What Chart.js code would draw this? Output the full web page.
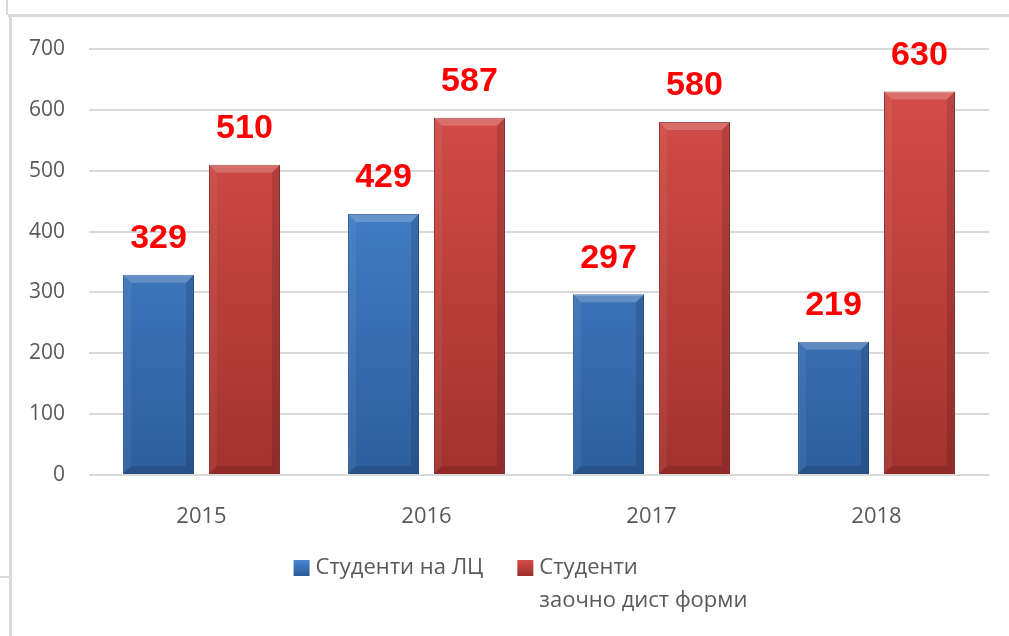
<!DOCTYPE html>
<html><head><meta charset="utf-8">
<script src="https://cdn.jsdelivr.net/npm/chart.js@4/dist/chart.umd.min.js"></script>
<style>
html,body{margin:0;padding:0;background:#fff;width:1009px;height:636px;overflow:hidden;position:relative}
canvas{position:absolute;left:0;top:0}
.l{position:absolute;background:#dadada}
</style></head><body>
<div class="l" style="left:6px;top:0;width:2px;height:15px"></div>
<div class="l" style="left:8px;top:14px;width:1001px;height:3px"></div>
<div class="l" style="left:9px;top:14px;width:3px;height:622px"></div>
<div class="l" style="left:0;top:576px;width:9px;height:2px"></div>
<canvas id="c" width="1009" height="636"></canvas>
<script>
const categories = ['2015', '2016', '2017', '2018'];
const legendNames = [['Студенти на ЛЦ'], ['Студенти', 'заочно дист форми']];
const lcValues = [329, 429, 297, 219];
const distValues = [510, 587, 580, 630];
const yMin = 0, yMax = 700, yStep = 100;

const seriesColors = [
  {top: '#4e8ed9', bottom: '#2d5e9d', legendTop: '#4a86d0', legendBottom: '#2b5a96'},
  {top: '#d9504b', bottom: '#a2322f', legendTop: '#d44a45', legendBottom: '#9c302d'}
];

function grad(ctx, i) {
  const ch = ctx.chart; const a = ch.chartArea;
  if (!a) return seriesColors[i].top;
  const g = ch.ctx.createLinearGradient(0, a.top, 0, a.bottom);
  g.addColorStop(0, seriesColors[i].top);
  g.addColorStop(1, seriesColors[i].bottom);
  return g;
}

const bevelPlugin = {
  id: 'bevel',
  afterDatasetsDraw(chart) {
    const c = chart.ctx;
    chart.data.datasets.forEach((ds, di) => {
      chart.getDatasetMeta(di).data.forEach(bar => {
        const w = bar.width, l = bar.x - w / 2, r = bar.x + w / 2, t = bar.y, b = bar.base;
        const s = Math.min(8, (b - t) / 2);
        c.save();
        c.fillStyle = 'rgba(255,255,255,0.2)';
        c.beginPath(); c.moveTo(l, t); c.lineTo(r, t); c.lineTo(r - s, t + s); c.lineTo(l + s, t + s); c.closePath(); c.fill();
        c.fillStyle = 'rgba(255,255,255,0.05)';
        c.beginPath(); c.moveTo(l, t); c.lineTo(l + s, t + s); c.lineTo(l + s, b - s); c.lineTo(l, b); c.closePath(); c.fill();
        c.fillStyle = 'rgba(0,0,0,0.12)';
        c.beginPath(); c.moveTo(r, t); c.lineTo(r, b); c.lineTo(r - s, b - s); c.lineTo(r - s, t + s); c.closePath(); c.fill();
        c.fillStyle = 'rgba(0,0,0,0.12)';
        c.beginPath(); c.moveTo(l, b); c.lineTo(r, b); c.lineTo(r - s, b - s); c.lineTo(l + s, b - s); c.closePath(); c.fill();
        c.restore();
      });
    });
  }
};

const labelPlugin = {
  id: 'valueLabels',
  afterDatasetsDraw(chart) {
    const c = chart.ctx;
    c.save();
    c.fillStyle = '#ff0000';
    c.font = 'bold 34px "Liberation Sans", Arial, sans-serif';
    c.textAlign = 'center';
    c.textBaseline = 'middle';
    chart.data.datasets.forEach((ds, di) => {
      chart.getDatasetMeta(di).data.forEach((bar, i) => {
        c.fillText(String(ds.data[i]), bar.x, bar.y - 36);
      });
    });
    c.restore();
  }
};

const legendPlugin = {
  id: 'customLegend',
  afterDraw(chart) {
    const c = chart.ctx;
    c.save();
    c.font = '22px "Open Sans", sans-serif';
    c.textBaseline = 'middle';
    c.textAlign = 'left';
    const box = 16, gap = 6, itemGap = 34, lineH = 33;
    const widths = legendNames.map(lines => box + gap + Math.max(...lines.map(t => c.measureText(t).width)));
    const total = widths.reduce((a, b) => a + b, 0) + itemGap * (widths.length - 1);
    let x = (chart.width - total) / 2 + 16;
    const y = chart.chartArea.bottom + 93;
    legendNames.forEach((lines, i) => {
      const g = c.createLinearGradient(0, y - box / 2, 0, y + box / 2);
      g.addColorStop(0, seriesColors[i].legendTop);
      g.addColorStop(1, seriesColors[i].legendBottom);
      c.fillStyle = g;
      c.fillRect(x, y - box / 2, box, box);
      c.fillStyle = '#595959';
      lines.forEach((t, k) => c.fillText(t, x + box + gap, y + k * lineH));
      x += widths[i] + itemGap;
    });
    c.restore();
  }
};

new Chart(document.getElementById('c'), {
  type: 'bar',
  data: {
    labels: categories,
    datasets: [
      {label: legendNames[0].join(' '), data: lcValues, backgroundColor: ctx => grad(ctx, 0), borderColor: '#2a5793', borderWidth: 1},
      {label: legendNames[1].join(' '), data: distValues, backgroundColor: ctx => grad(ctx, 1), borderColor: '#8f2a28', borderWidth: 1}
    ]
  },
  options: {
    responsive: false,
    devicePixelRatio: 1,
    animation: false,
    events: [],
    categoryPercentage: 0.764,
    barPercentage: 0.826,
    layout: {padding: {top: 49, right: 20, left: 0, bottom: 113}},
    plugins: {
      tooltip: {enabled: false},
      legend: {display: false}
    },
    scales: {
      x: {
        grid: {display: false},
        border: {display: false},
        ticks: {font: {family: '"Open Sans", sans-serif', size: 22}, color: '#595959', padding: 21},
        afterFit: s => { s.height = 48; }
      },
      y: {
        min: yMin, max: yMax,
        ticks: {stepSize: yStep, font: {family: '"Open Sans", sans-serif', size: 21}, color: '#595959', padding: 24},
        grid: {color: '#d9d9d9', lineWidth: 2, drawTicks: false},
        border: {display: false},
        afterFit: s => { s.width = 89; }
      }
    }
  },
  plugins: [bevelPlugin, labelPlugin, legendPlugin]
});
</script>
</body></html>
